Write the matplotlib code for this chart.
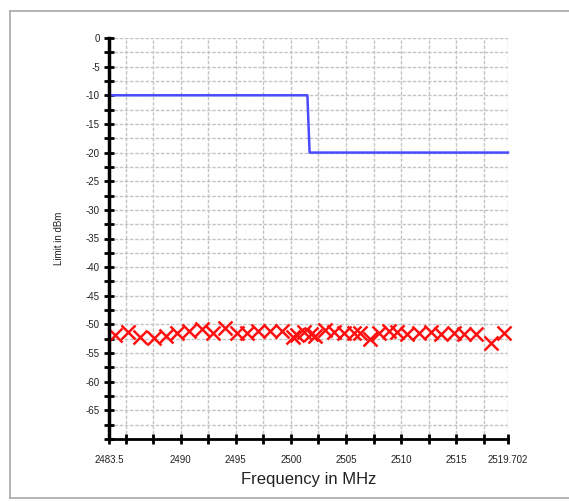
import matplotlib
matplotlib.use("Agg")
import matplotlib.pyplot as plt
from matplotlib.lines import Line2D

plt.rcParams['font.family'] = ['Liberation Sans', 'DejaVu Sans']

# Limit line (MHz, dBm)
limit_freq = [2483.5, 2501.5, 2501.7, 2519.702]
limit_dbm = [-10, -10, -20, -20]

# Measured emissions (MHz, dBm)
meas_freq = [2484.0, 2485.2, 2486.3, 2487.6, 2488.7, 2489.7, 2490.8, 2491.9,
             2492.9, 2494.0, 2495.1, 2496.0, 2497.0, 2498.1, 2499.2, 2500.2,
             2500.6, 2501.2, 2501.8, 2502.2, 2503.1, 2503.9, 2504.8, 2505.7,
             2506.3, 2507.2, 2508.0, 2508.9, 2509.6, 2510.5, 2511.6, 2512.7,
             2513.6, 2514.8, 2515.7, 2516.8, 2518.2, 2519.3]
meas_dbm = [-51.9, -51.3, -52.2, -52.4, -52.0, -51.5, -51.2, -50.8,
            -51.5, -50.6, -51.5, -51.5, -51.2, -51.2, -51.2, -52.2,
            -51.9, -51.3, -51.6, -52.0, -50.9, -51.3, -51.5, -51.5,
            -51.5, -52.5, -51.5, -51.2, -51.3, -51.7, -51.5, -51.3,
            -51.7, -51.5, -51.7, -51.7, -53.2, -51.5]

x_ticks = [2483.5, 2485, 2487.5, 2490, 2492.5, 2495, 2497.5, 2500, 2502.5,
           2505, 2507.5, 2510, 2512.5, 2515, 2517.5, 2519.702]
x_labels = ['2483.5', '', '', '2490', '', '2495', '', '2500', '',
            '2505', '', '2510', '', '2515', '', '2519.702']
y_ticks = [0, -2.5, -5, -7.5, -10, -12.5, -15, -17.5, -20, -22.5, -25, -27.5,
           -30, -32.5, -35, -37.5, -40, -42.5, -45, -47.5, -50, -52.5, -55,
           -57.5, -60, -62.5, -65, -67.5, -70]
y_labels = ['0', '', '-5', '', '-10', '', '-15', '', '-20', '', '-25', '',
            '-30', '', '-35', '', '-40', '', '-45', '', '-50', '', '-55', '',
            '-60', '', '-65', '', '']

W, H = 569, 501
fig = plt.figure(figsize=(W / 100, H / 100), dpi=100)

# outer frame (left, top, bottom edges; right edge lies outside the image)
frame_kw = dict(transform=fig.transFigure, color='#a8a8a8', linewidth=1.2)
fig.lines.append(Line2D([10 / W, 10 / W], [1 - 11 / H, 1 - 498 / H], **frame_kw))
fig.lines.append(Line2D([10 / W, 1.0], [1 - 11 / H, 1 - 11 / H], **frame_kw))
fig.lines.append(Line2D([10 / W, 1.0], [1 - 498 / H, 1 - 498 / H], **frame_kw))

ax = fig.add_axes([109 / W, 1 - 439 / H, 399 / W, 401 / H])
ax.set_xlim(2483.5, 2519.702)
ax.set_ylim(-70, 0)

ax.set_xticks(x_ticks)
ax.set_xticklabels(x_labels)
ax.set_yticks(y_ticks)
ax.set_yticklabels(y_labels)

ax.grid(True, color='#c4c4c4', linestyle=(0, (2.5, 1.2)), linewidth=1.0)
ax.set_axisbelow(True)

for s in ['top', 'right']:
    ax.spines[s].set_visible(False)
ax.spines['left'].set_linewidth(2.5)
ax.spines['bottom'].set_linewidth(2.0)
ax.spines['left'].set_zorder(5)
ax.spines['bottom'].set_zorder(5)

ax.tick_params(axis='both', direction='inout', length=7, width=2, color='black',
               labelsize=7, labelcolor='#222222')
ax.tick_params(axis='x', pad=8)
ax.tick_params(axis='y', pad=3)

ax.plot(limit_freq, limit_dbm, color='#4a4aff', linewidth=1.8, zorder=3,
        clip_on=False)
ax.plot(meas_freq, meas_dbm, linestyle='none', marker='x', markersize=10,
        markeredgewidth=1.8, color='#ff1010', zorder=4, clip_on=False)

ax.set_xlabel('Frequency in MHz', fontsize=12, labelpad=5, color='#222222')
ax.set_ylabel('Limit in dBm', fontsize=7, labelpad=16, color='#222222')

fig.savefig('out.png', dpi=100)
